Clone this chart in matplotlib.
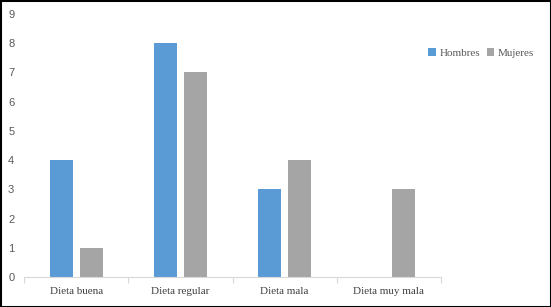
import matplotlib
matplotlib.use("Agg")
import matplotlib.pyplot as plt
import numpy as np
from matplotlib.patches import Rectangle

categories = ["Dieta buena", "Dieta regular", "Dieta mala", "Dieta muy mala"]
hombres = [4, 8, 3, 0]
mujeres = [1, 7, 4, 3]
yticks = list(range(0, 10))

fig = plt.figure(figsize=(5.51, 3.07), dpi=100)
ax = fig.add_axes([24/551, 30/307, 417/551, 263/307])

x = np.arange(len(categories))
w = 0.221
off = 0.144
ax.bar(x - off, hombres, w, color="#5B9BD5", label="Hombres")
ax.bar(x + off, mujeres, w, color="#A5A5A5", label="Mujeres")

ax.set_xlim(-0.5, len(categories) - 0.5)
ax.set_ylim(0, 9)
ax.set_yticks(yticks)
ax.set_yticklabels([str(v) for v in yticks], family="Liberation Sans", fontsize=8, color="#595959")
ax.tick_params(axis="y", length=0, pad=7)

ax.set_xticks(np.arange(-0.5, len(categories)), minor=False)
ax.set_xticklabels([])
ax.tick_params(axis="x", which="major", length=4, color="#D9D9D9", direction="out")
ax.set_xticks(x, minor=True)
ax.set_xticklabels(categories, minor=True, family="Liberation Serif", fontsize=8, color="#404040")
ax.tick_params(axis="x", which="minor", length=0, pad=7)

for s in ["top", "right", "left"]:
    ax.spines[s].set_visible(False)
ax.spines["bottom"].set_color("#D9D9D9")

leg = fig.legend(loc="center", bbox_to_anchor=(481/551, 1 - 53/307), ncol=2, frameon=False,
                 prop={"family": "Liberation Serif", "size": 8}, handlelength=0.7, handleheight=0.7,
                 handletextpad=0.3, columnspacing=0.6)
for t in leg.get_texts():
    t.set_color("#595959")

fig.patches.append(Rectangle((0, 0), 1, 1, transform=fig.transFigure, fill=False,
                             edgecolor="black", linewidth=2.2))
fig.savefig("out.png", dpi=100)
